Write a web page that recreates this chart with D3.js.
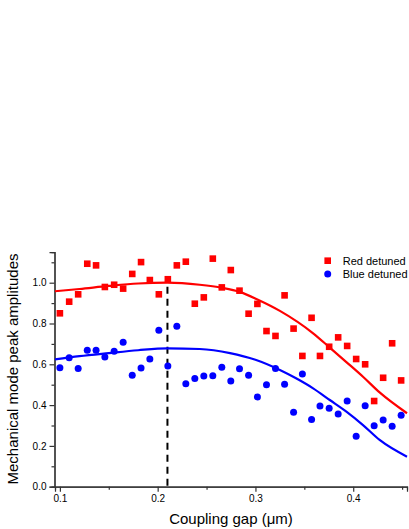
<html>
<head>
<meta charset="utf-8">
<style>
  body { margin: 0; background: #fff; }
  text { font-family: "Liberation Sans", Arial, sans-serif; }
</style>
</head>
<body>
<script src="https://d3js.org/d3.v7.min.js"></script>
<svg id="chart" width="409" height="529"></svg>
<script>
// coupling gap (um), shared by both series
var gap = [0.100,0.1095,0.1187,0.128,0.137,0.146,0.1555,0.1647,0.174,0.183,
           0.192,0.2012,0.2104,0.2196,0.2288,0.238,0.2472,0.2564,0.2656,0.2748,
           0.2837,0.293,0.302,0.3113,0.3205,0.3298,0.339,0.348,0.3574,0.366,
           0.3754,0.3846,0.3938,0.403,0.4122,0.4214,0.4306,0.4398,0.449];

var redAmp = [0.850,0.907,0.943,1.093,1.085,0.979,0.990,0.971,1.043,1.101,
              1.013,0.943,1.017,1.085,1.103,0.897,0.928,1.118,0.977,1.062,
              0.961,0.848,0.896,0.763,0.739,0.938,0.775,0.641,0.828,0.641,
              0.686,0.732,0.690,0.626,0.600,0.420,0.534,0.703,0.521];

var blueAmp = [0.583,0.632,0.580,0.669,0.669,0.636,0.664,0.708,0.546,0.582,
               0.626,0.767,0.592,0.786,0.505,0.531,0.543,0.544,0.585,0.518,
               0.578,0.546,0.440,0.500,0.580,0.502,0.365,0.552,0.330,0.396,
               0.384,0.356,0.420,0.247,0.397,0.299,0.327,0.296,0.350];

// fitted curves
var redFitX  = [0.095,0.12,0.15,0.18,0.21,0.243,0.266,0.284,0.302,0.325,0.359,0.376,0.393,0.41,0.427,0.455];
var redFitY  = [0.958,0.969,0.984,0.996,1.0,0.99,0.975,0.955,0.918,0.862,0.752,0.682,0.611,0.539,0.462,0.36];
var blueFitX = [0.095,0.12,0.15,0.18,0.21,0.243,0.274,0.3,0.325,0.342,0.359,0.376,0.393,0.41,0.427,0.455];
var blueFitY = [0.624,0.64,0.655,0.669,0.678,0.675,0.655,0.622,0.572,0.53,0.482,0.425,0.368,0.302,0.229,0.147];

var markerGap = 0.21;

var xMajor = [0.1,0.2,0.3,0.4];
var xMinor = [0.15,0.25,0.35,0.45];
var yMajor = [0,0.2,0.4,0.6,0.8,1.0];
var yMinor = [0.1,0.3,0.5,0.7,0.9,1.1];

var legendNames = ["Red detuned","Blue detuned"];

var svg = d3.select("#chart");
var axisColor = "#333";

var x = d3.scaleLinear().domain([0.095, 0.455]).range([55, 407]);
var y = d3.scaleLinear().domain([0, 1.15]).range([486.7, 252.1]);

// axes
function styleAxis(g){
    g.selectAll("path, line").attr("stroke", axisColor).attr("stroke-width", 1.2);
    g.selectAll("text").attr("font-size", 10).attr("fill", "#000")
        .attr("font-family", "Liberation Sans, Arial, sans-serif");
}
svg.append("g").attr("transform", "translate(0,486.7)")
    .call(d3.axisBottom(x).tickValues(xMajor).tickFormat(d3.format(".1f")).tickSizeOuter(0).tickSize(5).tickPadding(3))
    .call(styleAxis);
svg.append("g").attr("transform", "translate(0,486.7)")
    .call(d3.axisBottom(x).tickValues(xMinor).tickFormat("").tickSizeOuter(0).tickSize(3))
    .call(styleAxis);
svg.append("g").attr("transform", "translate(54.5,0)")
    .call(d3.axisLeft(y).tickValues(yMajor).tickFormat(d3.format(".1f")).tickSizeOuter(0).tickSize(5).tickPadding(3))
    .call(styleAxis);
svg.append("g").attr("transform", "translate(54.5,0)")
    .call(d3.axisLeft(y).tickValues(yMinor).tickFormat("").tickSizeOuter(0).tickSize(3))
    .call(styleAxis);

// titles
svg.append("text")
    .attr("transform", "translate(18,369) rotate(-90)")
    .attr("text-anchor", "middle")
    .attr("font-size", 15)
    .text("Mechanical mode peak amplitudes");
svg.append("text")
    .attr("x", 231).attr("y", 524)
    .attr("text-anchor", "middle")
    .attr("font-size", 15)
    .text("Coupling gap (\u03bcm)");

// dashed marker
svg.append("line")
    .attr("x1", x(markerGap)).attr("x2", x(markerGap))
    .attr("y1", y(0.98)).attr("y2", y(0))
    .attr("stroke", "#000").attr("stroke-width", 2)
    .attr("stroke-dasharray", "7,5");

// fits
var line = d3.line().x(d => x(d[0])).y(d => y(d[1])).curve(d3.curveMonotoneX);
svg.append("path").datum(d3.zip(redFitX, redFitY))
    .attr("d", line).attr("fill", "none").attr("stroke", "#ff0000").attr("stroke-width", 2.2);
svg.append("path").datum(d3.zip(blueFitX, blueFitY))
    .attr("d", line).attr("fill", "none").attr("stroke", "#0000ff").attr("stroke-width", 2.2);

// points
var sq = 6.6;
svg.append("g").selectAll("rect")
    .data(d3.zip(gap, redAmp))
    .join("rect")
    .attr("x", d => x(d[0]) - sq/2).attr("y", d => y(d[1]) - sq/2)
    .attr("width", sq).attr("height", sq)
    .attr("fill", "#ff0000");
svg.append("g").selectAll("circle")
    .data(d3.zip(gap, blueAmp))
    .join("circle")
    .attr("cx", d => x(d[0])).attr("cy", d => y(d[1]))
    .attr("r", 3.5)
    .attr("fill", "#0000ff");

// legend
var lg = svg.append("g");
lg.append("rect").attr("x", 327.7 - sq/2).attr("y", 260.7 - sq/2)
    .attr("width", sq).attr("height", sq).attr("fill", "#ff0000");
lg.append("circle").attr("cx", 327.7).attr("cy", 274).attr("r", 3.5).attr("fill", "#0000ff");
lg.selectAll("text").data(legendNames).join("text")
    .attr("x", 342.7).attr("y", (d, i) => 260.7 + i * 13.3)
    .attr("dy", "0.35em")
    .attr("font-size", 11)
    .text(d => d);
</script>
</body>
</html>
